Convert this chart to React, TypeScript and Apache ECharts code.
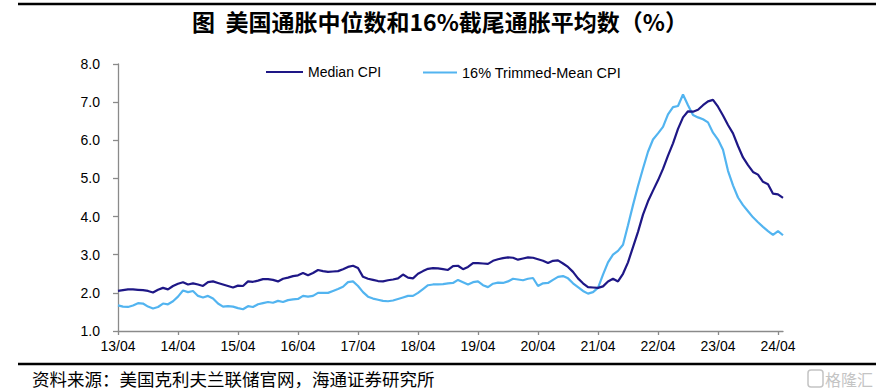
import React, { useEffect, useRef } from 'react';
import * as echarts from 'echarts';

// Monthly data, 2013/04 .. 2024/05 (YoY, %)
const medianCPI = [
  2.05, 2.07, 2.09, 2.09, 2.08, 2.07, 2.05, 2.01, 2.08, 2.13, 2.09, 2.18,
  2.24, 2.28, 2.22, 2.25, 2.22, 2.18, 2.28, 2.30, 2.26, 2.22, 2.18, 2.14,
  2.19, 2.18, 2.30, 2.29, 2.32, 2.36, 2.36, 2.34, 2.30, 2.37, 2.40, 2.44,
  2.46, 2.52, 2.46, 2.52, 2.60, 2.57, 2.55, 2.56, 2.57, 2.62, 2.68, 2.71,
  2.65, 2.42, 2.37, 2.34, 2.31, 2.30, 2.33, 2.35, 2.38, 2.48, 2.40, 2.38,
  2.50, 2.57, 2.63, 2.65, 2.64, 2.62, 2.60, 2.70, 2.71, 2.62, 2.68, 2.78,
  2.78, 2.77, 2.76, 2.84, 2.88, 2.91, 2.93, 2.92, 2.87, 2.90, 2.93, 2.92,
  2.88, 2.84, 2.78, 2.84, 2.85, 2.77, 2.68, 2.55, 2.38, 2.25, 2.15, 2.14,
  2.13, 2.17, 2.30, 2.37, 2.30, 2.50, 2.80, 3.20, 3.60, 4.05, 4.40, 4.68,
  4.95, 5.25, 5.60, 5.92, 6.30, 6.60, 6.76, 6.75, 6.80, 6.92, 7.02, 7.06,
  6.88, 6.65, 6.40, 6.18, 5.85, 5.55, 5.35, 5.17, 5.10, 4.91, 4.85, 4.60,
  4.58, 4.49,
];

const trimmedMeanCPI = [
  1.67, 1.64, 1.63, 1.67, 1.73, 1.72, 1.64, 1.59, 1.63, 1.72, 1.70, 1.78,
  1.90, 2.06, 2.02, 2.05, 1.92, 1.88, 1.92, 1.85, 1.72, 1.64, 1.65, 1.64,
  1.60, 1.57, 1.65, 1.63, 1.70, 1.73, 1.76, 1.74, 1.79, 1.76, 1.81, 1.83,
  1.84, 1.92, 1.90, 1.92, 2.00, 2.00, 2.00, 2.05, 2.10, 2.16, 2.28, 2.30,
  2.18, 2.02, 1.90, 1.85, 1.82, 1.79, 1.78, 1.80, 1.84, 1.88, 1.92, 1.92,
  2.00, 2.10, 2.20, 2.22, 2.22, 2.23, 2.25, 2.26, 2.34, 2.28, 2.22, 2.28,
  2.30, 2.20, 2.15, 2.24, 2.27, 2.26, 2.30, 2.37, 2.35, 2.33, 2.37, 2.39,
  2.18, 2.25, 2.26, 2.34, 2.42, 2.44, 2.38, 2.25, 2.15, 2.05, 1.98, 2.02,
  2.13, 2.48, 2.80, 3.00, 3.10, 3.26, 3.77, 4.30, 4.80, 5.26, 5.70, 6.02,
  6.18, 6.35, 6.68, 6.87, 6.90, 7.20, 6.92, 6.66, 6.60, 6.55, 6.47, 6.20,
  6.02, 5.75, 5.20, 4.82, 4.50, 4.30, 4.14, 3.98, 3.85, 3.73, 3.62, 3.52,
  3.62, 3.51,
];

const seriesNames = ['Median CPI', '16% Trimmed-Mean CPI'];
const title = '图  美国通胀中位数和16%截尾通胀平均数（%）';
const source = '资料来源：美国克利夫兰联储官网，海通证券研究所';
const watermark = '格隆汇';

// category labels "YY/MM" starting 2013/04
const categories: string[] = [];
for (let i = 0; i < medianCPI.length; i++) {
  const m = 3 + i; // month index from Jan 2013 (0-based)
  const yy = 13 + Math.floor(m / 12);
  const mm = (m % 12) + 1;
  categories.push(`${yy}/${mm < 10 ? '0' + mm : mm}`);
}

const DARK = '#1e1786';
const LIGHT = '#52b4f0';
const AXIS = '#8a8a8a';
const LATIN = 'Liberation Sans, Arial, sans-serif';
const CJK = '"Noto Sans CJK SC", sans-serif';

export default function App() {
  const ref = useRef<HTMLDivElement>(null);
  useEffect(() => {
    if (!ref.current) return;
    const chart = echarts.init(ref.current, null, { renderer: 'svg' });
    chart.setOption({
      animation: false,
      backgroundColor: '#ffffff',
      grid: { left: 118, right: 96, top: 64, bottom: 60, containLabel: false },
      legend: [
        {
          data: [seriesNames[0]],
          left: 261,
          top: 60,
          icon: 'rect',
          itemWidth: 37,
          itemHeight: 2,
          itemGap: 0,
          textStyle: { fontFamily: LATIN, fontSize: 14, color: '#000' },
        },
        {
          data: [seriesNames[1]],
          left: 418,
          top: 60,
          icon: 'rect',
          itemWidth: 34,
          itemHeight: 2,
          itemGap: 0,
          textStyle: { fontFamily: LATIN, fontSize: 14.5, color: '#000' },
        },
      ],
      xAxis: {
        type: 'category',
        data: categories,
        boundaryGap: false,
        axisLine: { lineStyle: { color: AXIS, width: 1.3 } },
        axisTick: { interval: 11, length: 4, lineStyle: { color: AXIS, width: 1.3 } },
        axisLabel: {
          interval: 11,
          color: '#000',
          fontFamily: LATIN,
          fontSize: 14,
          margin: 8,
        },
        splitLine: { show: false },
      },
      yAxis: {
        type: 'value',
        min: 1,
        max: 8,
        interval: 1,
        axisLine: { show: true, lineStyle: { color: AXIS, width: 1.3 } },
        axisTick: { show: true, length: 5, lineStyle: { color: AXIS, width: 1.3 } },
        axisLabel: {
          color: '#000',
          fontFamily: LATIN,
          fontSize: 14,
          margin: 18,
          formatter: (v: number) => v.toFixed(1),
        },
        splitLine: { show: false },
      },
      series: [
        {
          name: seriesNames[0],
          type: 'line',
          data: medianCPI,
          showSymbol: false,
          symbol: 'none',
          lineStyle: { color: DARK, width: 2.2 },
          itemStyle: { color: DARK },
          z: 3,
        },
        {
          name: seriesNames[1],
          type: 'line',
          data: trimmedMeanCPI,
          showSymbol: false,
          symbol: 'none',
          lineStyle: { color: LIGHT, width: 2.2 },
          itemStyle: { color: LIGHT },
          z: 2,
        },
      ],
      graphic: [
        { type: 'line', shape: { x1: 18, y1: 4, x2: 876, y2: 4 }, style: { stroke: '#000', lineWidth: 2.5 } },
        {
          type: 'text',
          x: 440,
          y: 21,
          style: {
            text: title,
            fontFamily: CJK,
            fontWeight: 'bold',
            fontSize: 23,
            fill: '#000',
            textAlign: 'center',
            textVerticalAlign: 'middle',
          },
        },
        { type: 'line', shape: { x1: 18, y1: 364, x2: 876, y2: 364 }, style: { stroke: '#000', lineWidth: 2.5 } },
        {
          type: 'text',
          x: 32,
          y: 378,
          style: {
            text: source,
            fontFamily: CJK,
            fontSize: 17.5,
            fill: '#000',
            textAlign: 'left',
            textVerticalAlign: 'middle',
          },
        },
        {
          type: 'rect',
          shape: { x: 808, y: 370, width: 15, height: 17, r: 3 },
          style: { fill: 'none', stroke: '#c4c4c4', lineWidth: 1.5 },
        },
        {
          type: 'text',
          x: 825,
          y: 379,
          style: {
            text: watermark,
            fontFamily: CJK,
            fontSize: 16,
            fill: '#c4c4c4',
            textAlign: 'left',
            textVerticalAlign: 'middle',
          },
        },
      ],
    });
    return () => chart.dispose();
  }, []);
  return (
    <div
      ref={ref}
      style={{ position: 'fixed', left: 0, top: 0, width: 879, height: 391, background: '#fff' }}
    />
  );
}
